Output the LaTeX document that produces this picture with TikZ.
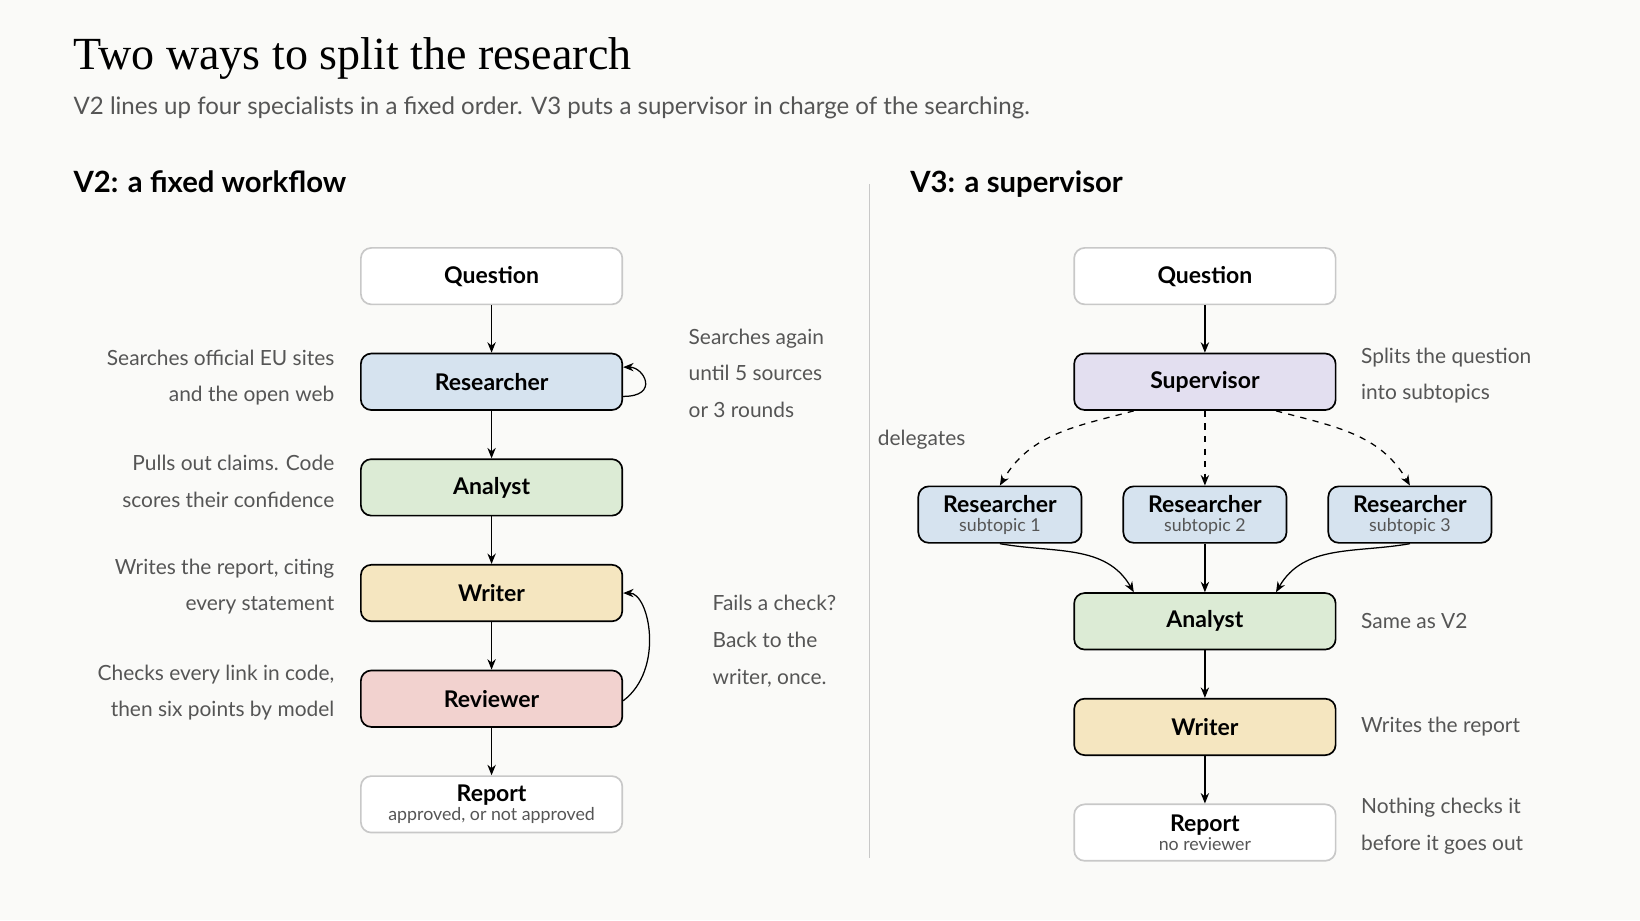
\documentclass[tikz,border=0pt]{standalone}
\usepackage{fontspec}
\setmainfont{Lato}
\newfontfamily\titlefont{Liberation Serif}
\usetikzlibrary{positioning,arrows.meta,calc}
\definecolor{bgc}{HTML}{FAFAF8}
\definecolor{txtc}{HTML}{555555}
\definecolor{edgec}{HTML}{C8C8C8}
\definecolor{bluec}{HTML}{D6E3EF}
\definecolor{greenc}{HTML}{DCEBD5}
\definecolor{yellowc}{HTML}{F5E6C0}
\definecolor{redc}{HTML}{F2D2CF}
\definecolor{purplec}{HTML}{E3DFF0}
\newcommand{\subtxt}[1]{{\fontsize{8.5}{9}\selectfont\mdseries\color{txtc}#1}}
\tikzset{
  box/.style={draw=black, line width=0.8pt, rounded corners=5pt, minimum width=125pt,
    minimum height=27pt, font=\fontsize{11}{12}\selectfont\bfseries, align=center, inner sep=1pt},
  plain/.style={box, draw=edgec, fill=white},
  small/.style={box, minimum width=78pt},
  note/.style={font=\fontsize{10}{17.5}\selectfont, text=txtc, inner sep=0pt},
  arr/.style={-{Stealth[length=5pt,width=4pt]}, line width=0.6pt}
}
\begin{document}
\begin{tikzpicture}[x=0.5pt,y=-0.5pt]
    \fill[bgc] (0,0) rectangle (1568,880);
    \useasboundingbox (0,0) rectangle (1568,880);

    % Heading
    \node[anchor=base west, inner sep=0pt, font=\titlefont\fontsize{22}{24}\selectfont] (title) at (70,66) {Two ways to split the research};
    \node[anchor=base west, inner sep=0pt, font=\fontsize{11.5}{12}\selectfont, text=txtc] (subtitle) at (70,109) {V2 lines up four specialists in a fixed order. V3 puts a supervisor in charge of the searching.};
    \node[anchor=base west, inner sep=0pt, font=\fontsize{14}{15}\selectfont\bfseries] (headL) at (70,184) {V2: a fixed workflow};
    \node[anchor=base west, inner sep=0pt, font=\fontsize{14}{15}\selectfont\bfseries] (headR) at (870,184) {V3: a supervisor};
    \draw[edgec, line width=0.6pt] (831,176) -- (831,820);

    % V2 column
    \node[plain] (q2) at (470,264) {Question};
    \node[box, fill=bluec] (res2) at (470,365) {Researcher};
    \node[box, fill=greenc] (ana2) at (470,466) {Analyst};
    \node[box, fill=yellowc] (wri2) at (470,567) {Writer};
    \node[box, fill=redc] (rev2) at (470,668) {Reviewer};
    \node[plain, font=\fontsize{11}{11}\selectfont\bfseries] (rep2) at (470,769) {Report\\[-2pt]\subtxt{approved, or not approved}};
    \draw[arr] (q2) -- (res2);
    \draw[arr] (res2) -- (ana2);
    \draw[arr] (ana2) -- (wri2);
    \draw[arr] (wri2) -- (rev2);
    \draw[arr] (rev2) -- (rep2);
    \draw[arr] ([yshift=-7pt]res2.east) .. controls +(35,0) and +(20,0) .. ([yshift=7pt]res2.east);
    \draw[arr] ([yshift=-1pt]rev2.east) .. controls +(40,-30) and +(25,0) .. ([yshift=0pt]wri2.east);

    \node[note, anchor=north east, align=right] (nres2) at (320,334) {Searches official EU sites\\and the open web};
    \node[note, anchor=north east, align=right] (nana2) at (320,435) {Pulls out claims. Code\\scores their confidence};
    \node[note, anchor=north east, align=right] (nwri2) at (320,534) {Writes the report, citing\\every statement};
    \node[note, anchor=north east, align=right] (nrev2) at (320,635) {Checks every link in code,\\then six points by model};
    \node[note, anchor=north west, align=left] (nloop) at (658,314) {Searches again\\until 5 sources\\or 3 rounds};
    \node[note, anchor=north west, align=left] (nback) at (681,569) {Fails a check?\\Back to the\\writer, once.};

    % V3 column
    \node[plain] (q3) at (1152,264) {Question};
    \node[box, fill=purplec] (sup) at (1152,365) {Supervisor};
    \foreach \i/\x in {1/956,2/1152,3/1348}
        \node[small, fill=bluec, font=\fontsize{11}{11}\selectfont\bfseries] (r\i) at (\x,492) {Researcher\\[-2pt]\subtxt{subtopic \i}};
    \node[box, fill=greenc] (ana3) at (1152,594) {Analyst};
    \node[box, fill=yellowc] (wri3) at (1152,695) {Writer};
    \node[plain, font=\fontsize{11}{11}\selectfont\bfseries] (rep3) at (1152,796) {Report\\[-2pt]\subtxt{no reviewer}};
    \draw[arr] (q3) -- (sup);
    \draw[arr, dashed] ([xshift=-34pt]sup.south) to[out=195,in=60] (r1.north);
    \draw[arr, dashed] (sup) -- (r2);
    \draw[arr, dashed] ([xshift=34pt]sup.south) to[out=-15,in=120] (r3.north);
    \draw[arr] (r1.south) to[out=-10,in=120] ([xshift=-34pt]ana3.north);
    \draw[arr] (r2) -- (ana3);
    \draw[arr] (r3.south) to[out=190,in=60] ([xshift=34pt]ana3.north);
    \draw[arr] (ana3) -- (wri3);
    \draw[arr] (wri3) -- (rep3);

    \node[note, anchor=base west] (ndel) at (839,426) {delegates};
    \node[note, anchor=north west, align=left] (nsup) at (1301,332) {Splits the question\\into subtopics};
    \node[note, anchor=base west] (nana3) at (1301,601) {Same as V2};
    \node[note, anchor=base west] (nwri3) at (1301,700) {Writes the report};
    \node[note, anchor=north west, align=left] (nrep3) at (1301,763) {Nothing checks it\\before it goes out};
\end{tikzpicture}
\end{document}
